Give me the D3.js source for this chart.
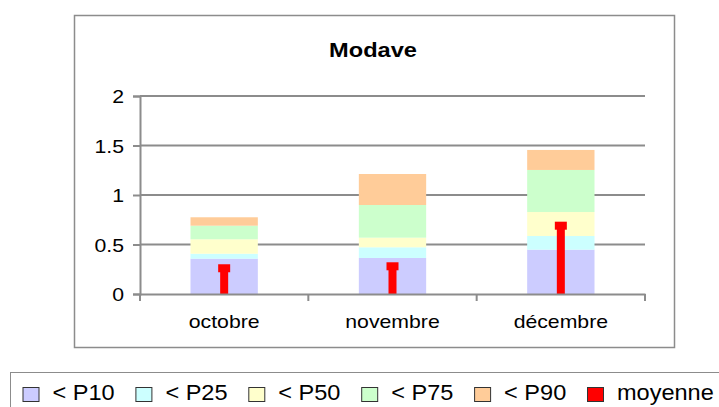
<!DOCTYPE html>
<html>
<head>
<meta charset="utf-8">
<script src="https://cdn.jsdelivr.net/npm/d3@7"></script>
<style>
  body { margin: 0; background: #fff; }
  text { font-family: "Liberation Sans", Arial, sans-serif; fill: #000; }
</style>
</head>
<body>
<svg id="chart" width="719" height="407"></svg>
<script>
const months = ['octobre', 'novembre', 'décembre']
const seriesNames = ['< P10', '< P25', '< P50', '< P75', '< P90']
const seriesColors = ['#ccccff', '#ccffff', '#ffffcc', '#ccffcc', '#ffcc99']
const p10 = [0.357, 0.364, 0.448]
const p25 = [0.407, 0.472, 0.586]
const p50 = [0.553, 0.569, 0.828]
const p75 = [0.69, 0.899, 1.253]
const p90 = [0.775, 1.212, 1.455]
const moyenne = [0.26, 0.28, 0.69]
const yTicks = [0, 0.5, 1, 1.5, 2]

const svg = d3.select('#chart')
const grey = '#8c8c8c'
const font = '"Liberation Sans", Arial, sans-serif'
// le graphique d'origine est un peu étiré en largeur
const stretch = 1.18

// cadre du graphique
svg.append('rect')
  .attr('x', 74.5).attr('y', 15.5)
  .attr('width', 600).attr('height', 332)
  .attr('fill', '#fff').attr('stroke', grey).attr('stroke-width', 1.5)

svg.append('text')
  .attr('transform', `translate(373,57) scale(${stretch},1)`)
  .attr('text-anchor', 'middle')
  .attr('font-size', 20).attr('font-weight', 'bold')
  .text('Modave')

const x = d3.scaleBand().domain(months).range([140, 645])
const y = d3.scaleLinear().domain([0, 2]).range([294, 96])

// grille
svg.append('g').selectAll('line').data(yTicks.slice(1)).join('line')
  .attr('x1', 140).attr('x2', 645)
  .attr('y1', d => y(d)).attr('y2', d => y(d))
  .attr('stroke', grey).attr('stroke-width', 2)

// barres empilées
const levels = [p10, p25, p50, p75, p90]
const bw = x.bandwidth() * 0.4
const bars = svg.append('g')
levels.forEach((vals, s) => {
  bars.selectAll(null).data(months).join('rect')
    .attr('x', d => x(d) + (x.bandwidth() - bw) / 2)
    .attr('width', bw)
    .attr('y', (d, i) => y(vals[i]))
    .attr('height', (d, i) => y(s === 0 ? 0 : levels[s - 1][i]) - y(vals[i]))
    .attr('fill', seriesColors[s])
})

// moyenne
const mean = svg.append('g')
mean.selectAll('rect.stem').data(months).join('rect')
  .attr('class', 'stem')
  .attr('x', d => x(d) + x.bandwidth() / 2 - 4)
  .attr('width', 8)
  .attr('y', (d, i) => y(moyenne[i]))
  .attr('height', (d, i) => y(0) - y(moyenne[i]))
  .attr('fill', '#ff0000')
mean.selectAll('rect.mark').data(months).join('rect')
  .attr('class', 'mark')
  .attr('x', d => x(d) + x.bandwidth() / 2 - 6)
  .attr('width', 12)
  .attr('y', (d, i) => y(moyenne[i]) - 4)
  .attr('height', 8)
  .attr('fill', '#ff0000')

// axes
const yAxis = svg.append('g').attr('transform', 'translate(140,0)')
  .call(d3.axisLeft(y).tickValues(yTicks).tickSize(7).tickFormat(d3.format('')))
yAxis.select('.domain').attr('stroke', grey).attr('stroke-width', 2)
yAxis.selectAll('.tick line').attr('stroke', grey).attr('stroke-width', 2)
yAxis.selectAll('text')
  .attr('x', 0).attr('dy', 0)
  .attr('transform', `translate(-16,6.5) scale(${stretch},1)`)
  .attr('font-size', 18).attr('font-family', font).attr('fill', '#000')

const xAxis = svg.append('g').attr('transform', 'translate(0,294)')
  .call(d3.axisBottom(x).tickSize(0))
xAxis.select('.domain').attr('stroke', grey).attr('stroke-width', 2)
xAxis.selectAll('text')
  .attr('y', 0).attr('dy', 0)
  .attr('transform', `translate(0,34) scale(${stretch},1)`)
  .attr('font-size', 18).attr('font-family', font).attr('fill', '#000')
svg.append('g').selectAll('line').data(d3.range(months.length + 1)).join('line')
  .attr('x1', i => 140 + i * x.step()).attr('x2', i => 140 + i * x.step())
  .attr('y1', 294).attr('y2', 301)
  .attr('stroke', grey).attr('stroke-width', 2)

// légende
svg.append('rect')
  .attr('x', 10.5).attr('y', 372.5)
  .attr('width', 720).attr('height', 50)
  .attr('fill', '#fff').attr('stroke', grey).attr('stroke-width', 1)
const legendItems = seriesNames.map((n, i) => ({ name: n, color: seriesColors[i] }))
  .concat([{ name: 'moyenne', color: '#ff0000' }])
const leg = svg.append('g').selectAll('g').data(legendItems).join('g')
  .attr('transform', (d, i) => `translate(${22.5 + i * 112.9},387)`)
leg.append('rect')
  .attr('x', 0.5).attr('y', 0.5)
  .attr('width', 16).attr('height', 14)
  .attr('fill', d => d.color).attr('stroke', '#333').attr('stroke-width', 1)
leg.append('text')
  .attr('transform', 'translate(30,13) scale(1.07,1)')
  .attr('font-size', 22)
  .text(d => d.name)
</script>
</body>
</html>
